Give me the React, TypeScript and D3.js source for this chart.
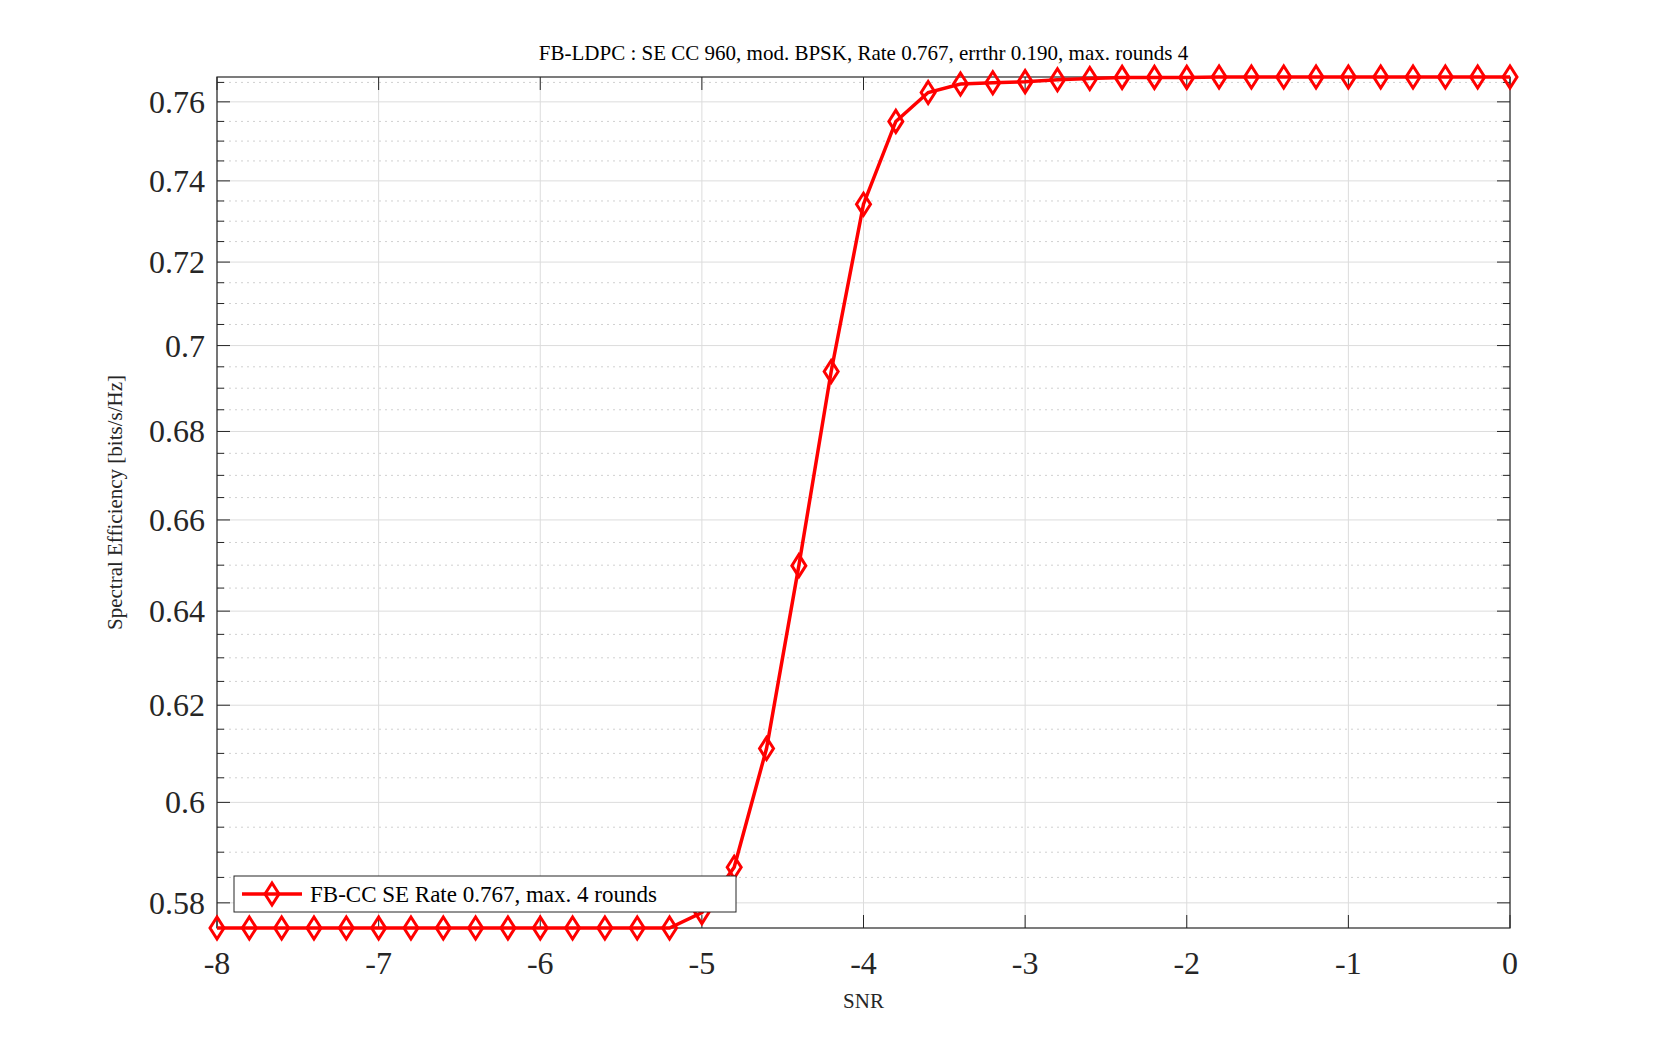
import React from "react";
import * as d3 from "d3";

const snr = d3.range(41).map((i) => -8 + i * 0.2);
const se = [
  0.5751, 0.5751, 0.5751, 0.5751, 0.5751, 0.5751, 0.5751, 0.5751, 0.5751, 0.5751, 0.5751, 0.5751, 0.5751, 0.5751, 0.5751,
  0.5781, 0.587, 0.611, 0.6499, 0.6939, 0.7342, 0.755, 0.7624, 0.7646, 0.7649, 0.7652, 0.7657, 0.766, 0.7663, 0.7663,
  0.7663, 0.7664, 0.7664, 0.7664, 0.7664, 0.7664, 0.7664, 0.7664, 0.7664, 0.7664, 0.7664,
];
const xTicks = [-8, -7, -6, -5, -4, -3, -2, -1, 0];
const yTicks = [0.58, 0.6, 0.62, 0.64, 0.66, 0.68, 0.7, 0.72, 0.74, 0.76];
const yMinor = d3.range(0.58, 0.7661, 0.005).map((v) => +v.toFixed(3)).filter((v) => !yTicks.some((t) => Math.abs(t - v) < 1e-6));

const W = 1667, H = 1042;
const L = 217, R = 1510, T = 77, B = 928;
const font = "'Liberation Serif', 'DejaVu Serif', serif";

export default function App() {
  const x = d3.scaleLinear().domain([-8, 0]).range([L, R]);
  const y = d3.scaleLog().domain([0.5751, 0.7664]).range([B, T]);
  const line = d3.line<number>().x((_, i) => x(snr[i])).y((d) => y(d));
  const diamond = (cx: number, cy: number) => `M${cx},${cy - 11}L${cx + 7},${cy}L${cx},${cy + 11}L${cx - 7},${cy}Z`;
  return (
    <svg width={W} height={H} style={{ position: "absolute", left: 0, top: 0, background: "#fff" }} fontFamily={font}>
      <rect width={W} height={H} fill="#fff" />
      {yMinor.map((v) => (
        <line key={"m" + v} x1={L} x2={R} y1={y(v)} y2={y(v)} stroke="#d0d0d0" strokeDasharray="2,4" />
      ))}
      {yTicks.map((v) => (
        <line key={"g" + v} x1={L} x2={R} y1={y(v)} y2={y(v)} stroke="#dcdcdc" />
      ))}
      {xTicks.map((v) => (
        <line key={"gx" + v} x1={x(v)} x2={x(v)} y1={T} y2={B} stroke="#dcdcdc" />
      ))}
      <rect x={L} y={T} width={R - L} height={B - T} fill="none" stroke="#262626" strokeWidth={1.2} />
      {xTicks.map((v) => (
        <g key={"tx" + v}>
          <line x1={x(v)} x2={x(v)} y1={B} y2={B - 13} stroke="#262626" />
          <line x1={x(v)} x2={x(v)} y1={T} y2={T + 13} stroke="#262626" />
          <text x={x(v)} y={974} textAnchor="middle" fontSize={32} fill="#262626">{v}</text>
        </g>
      ))}
      {yTicks.map((v) => (
        <g key={"ty" + v}>
          <line x1={L} x2={L + 13} y1={y(v)} y2={y(v)} stroke="#262626" />
          <line x1={R} x2={R - 13} y1={y(v)} y2={y(v)} stroke="#262626" />
          <text x={L - 12} y={y(v) + 11} textAnchor="end" fontSize={32} fill="#262626">{String(v)}</text>
        </g>
      ))}
      {yMinor.map((v) => (
        <g key={"tm" + v}>
          <line x1={L} x2={L + 7} y1={y(v)} y2={y(v)} stroke="#262626" />
          <line x1={R} x2={R - 7} y1={y(v)} y2={y(v)} stroke="#262626" />
        </g>
      ))}
      <path d={line(se) || ""} fill="none" stroke="#ff0000" strokeWidth={3.5} />
      {se.map((v, i) => (
        <path key={"p" + i} d={diamond(x(snr[i]), y(v))} fill="none" stroke="#ff0000" strokeWidth={3} />
      ))}
      <text x={(L + R) / 2} y={60} textAnchor="middle" fontSize={21} fill="#000">
        FB-LDPC : SE CC 960, mod. BPSK, Rate 0.767, errthr 0.190, max. rounds 4
      </text>
      <text x={(L + R) / 2} y={1008} textAnchor="middle" fontSize={21} fill="#262626">SNR</text>
      <text transform={`translate(122,${(T + B) / 2}) rotate(-90)`} textAnchor="middle" fontSize={21} fill="#262626">
        Spectral Efficiency [bits/s/Hz]
      </text>
      <g>
        <rect x={234} y={876} width={502} height={36} fill="#fff" stroke="#262626" strokeWidth={1} />
        <line x1={242} x2={302} y1={894} y2={894} stroke="#ff0000" strokeWidth={3.5} />
        <path d={diamond(272, 894)} fill="none" stroke="#ff0000" strokeWidth={3} />
        <text x={310} y={902} fontSize={23} fill="#000">FB-CC SE Rate 0.767, max. 4 rounds</text>
      </g>
    </svg>
  );
}
